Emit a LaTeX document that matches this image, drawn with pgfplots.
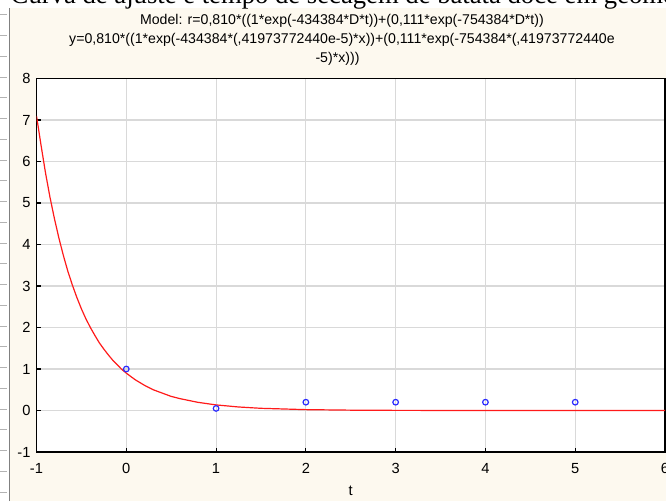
\documentclass[border=0pt]{standalone}
\usepackage{fontspec}
\setmainfont{Liberation Sans}
\newfontfamily\capfont{Liberation Serif}
\usepackage{pgfplots}
\pgfplotsset{compat=1.18}
\definecolor{cream}{HTML}{FDF9EF}
\definecolor{frame}{HTML}{808080}
\definecolor{gridc}{HTML}{D9D9D9}
\definecolor{fitred}{HTML}{FF1A1A}
\definecolor{ptblue}{HTML}{2A2AFF}

\begin{document}
\begin{tikzpicture}[x=0.75pt, y=0.75pt]
% one unit = one pixel of the reference; origin at the lower left corner of the axis box
\begin{scope}
\clip (-36.5,-49) rectangle (629.5,452);
\fill[white] (-36.5,-49) rectangle (629.5,452);
\fill[cream] (-27,-49) rectangle (629.5,444);
\draw[frame, line width=1.2pt] (-27,-49) -- (-27,444);
\foreach \k in {0,...,23} \draw[frame!60, line width=.5pt] (-36.5,{-40+\k*20.75}) -- (-30,{-40+\k*20.75});
\node[anchor=base west, font=\capfont\fontsize{20}{24}\selectfont, inner sep=0pt] at (-46,448.5)
  {– Curva de ajuste e tempo de secagem de batata doce em geometria};
\node[anchor=base, font=\fontsize{10.6}{13.9}\selectfont, inner sep=0pt] at (305.5,427)
  {Model: r=0,810*((1*exp(-434384*D*t))+(0,111*exp(-754384*D*t))};
\node[anchor=base, font=\fontsize{10.6}{13.9}\selectfont, inner sep=0pt] at (305.5,408.5)
  {y=0,810*((1*exp(-434384*(,41973772440e-5)*x))+(0,111*exp(-754384*(,41973772440e};
\node[anchor=base, font=\fontsize{10.6}{13.9}\selectfont, inner sep=0pt] at (301,390)
  {-5)*x)))};
\begin{axis}[
  at={(0,0)}, anchor=south west,
  scale only axis, width=471.375pt, height=280.125pt,
  xmin=-1, xmax=6, ymin=-1, ymax=8,
  xtick={-1,0,...,6}, ytick={-1,0,...,8},
  grid=major, grid style={draw=gridc, line width=.8pt},
  axis background/.style={fill=white},
  axis line style={black, line width=1.1pt},
  tick align=inside, major tick length=3pt,
  tick style={black, line width=.8pt},
  xtick pos=bottom, ytick pos=left,
  /pgf/number format/assume math mode=true,
  ticklabel style={font=\fontsize{11}{12}\selectfont, text=black},
  xticklabel style={yshift=-5pt},
  yticklabel style={xshift=-1pt},
  xlabel={t}, xlabel style={font=\fontsize{11}{12}\selectfont, yshift=-2pt},
  clip=true,
]
\addplot[fitred, line width=.9pt, mark=none] coordinates {
  (-1,7.10) (-0.95,6.40) (-0.9,5.73) (-0.85,5.14) (-0.8,4.62) (-0.75,4.15)
  (-0.7,3.73) (-0.65,3.35) (-0.6,3.02) (-0.55,2.72) (-0.5,2.45) (-0.45,2.21)
  (-0.4,2.00) (-0.35,1.81) (-0.3,1.63) (-0.25,1.48) (-0.2,1.34) (-0.15,1.21)
  (-0.1,1.10) (-0.05,0.99) (0,0.90) (0.1,0.74) (0.2,0.61) (0.3,0.50)
  (0.4,0.42) (0.5,0.34) (0.6,0.285) (0.8,0.196) (1,0.135) (1.25,0.085)
  (1.5,0.053) (2,0.021) (2.5,0.0085) (3,0.0034) (4,0.0006) (5,0.0001) (6,0)};
\addplot[only marks, mark=o, mark size=2.1pt, ptblue, line width=.9pt] coordinates {
  (0,1.0) (1,0.05) (2,0.2) (3,0.2) (4,0.2) (5,0.2)};
\end{axis}
\end{scope}
\pgfresetboundingbox
\useasboundingbox (-36.5,-49) rectangle (629.5,452);
\end{tikzpicture}
\end{document}
